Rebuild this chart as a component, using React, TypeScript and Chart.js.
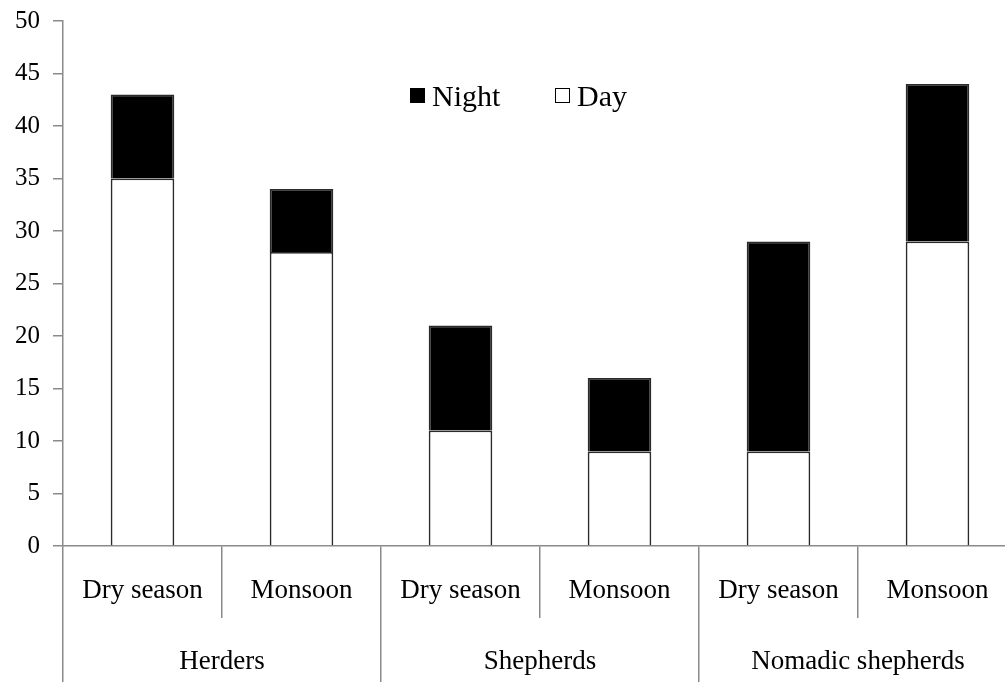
import React, { useEffect, useRef } from 'react';
import { Chart, registerables } from 'chart.js';

Chart.register(...registerables);

const categories = ['Dry season', 'Monsoon', 'Dry season', 'Monsoon', 'Dry season', 'Monsoon'];
const groups = ['Herders', 'Shepherds', 'Nomadic shepherds'];
const dayValues = [35, 28, 11, 9, 9, 29];
const nightValues = [8, 6, 10, 7, 20, 15];
const yMin = 0;
const yMax = 50;
const yStep = 5;

const FONT = 'Liberation Serif, Times New Roman, serif';
const AXIS_GRAY = '#8a8a8a';

const legendPlugin = {
  id: 'insideLegend',
  afterDraw(chart: any) {
    const { ctx, chartArea } = chart;
    const ds = chart.data.datasets;
    const items = [ds[1], ds[0]];
    const left = chartArea.left + 347;
    const boxTop = chartArea.top + 67;
    const baseline = chartArea.top + 85;
    ctx.save();
    ctx.font = `30px ${FONT}`;
    ctx.textBaseline = 'alphabetic';
    ctx.textAlign = 'left';
    let x = left;
    items.forEach((d: any, i: number) => {
      if (i === 0) {
        ctx.fillStyle = '#000';
        ctx.fillRect(x, boxTop, 15, 15);
      } else {
        ctx.fillStyle = '#fff';
        ctx.fillRect(x, boxTop, 15, 15);
        ctx.strokeStyle = '#000';
        ctx.lineWidth = 1;
        ctx.strokeRect(x + 0.5, boxTop + 0.5, 14, 14);
      }
      ctx.fillStyle = '#000';
      ctx.fillText(d.label, x + 22, baseline);
      x += 145;
    });
    ctx.restore();
  },
};

export default function App() {
  const ref = useRef<HTMLCanvasElement | null>(null);

  useEffect(() => {
    if (!ref.current) return;
    const chart = new Chart(ref.current, {
      type: 'bar',
      data: {
        labels: categories,
        datasets: [
          {
            label: 'Day',
            data: dayValues,
            backgroundColor: '#ffffff',
            borderColor: '#2a2a2a',
            borderWidth: 1.8,
            barPercentage: 0.4,
            categoryPercentage: 1,
            xAxisID: 'x',
          },
          {
            label: 'Night',
            data: nightValues,
            backgroundColor: '#000000',
            borderColor: '#2a2a2a',
            borderWidth: 1.8,
            barPercentage: 0.4,
            categoryPercentage: 1,
            xAxisID: 'x',
          },
        ],
      },
      options: {
        responsive: false,
        animation: false,
        layout: { autoPadding: false, padding: { left: 0, right: 13, top: 21, bottom: 0 } },
        plugins: {
          legend: { display: false },
          tooltip: { enabled: false },
        },
        scales: {
          y: {
            type: 'linear',
            stacked: true,
            min: yMin,
            max: yMax,
            ticks: {
              stepSize: yStep,
              color: '#000',
              font: { family: FONT, size: 25, lineHeight: 0.6 },
              padding: 13,
            },
            grid: {
              drawOnChartArea: false,
              drawTicks: true,
              tickLength: 10,
              color: AXIS_GRAY,
              lineWidth: 1.5,
            },
            border: { display: true, color: AXIS_GRAY, width: 1.5 },
            afterFit(s: any) {
              s.width = 63;
            },
          },
          x: {
            type: 'category',
            stacked: true,
            position: 'bottom',
            offset: true,
            weight: 1,
            grid: {
              offset: true,
              drawOnChartArea: false,
              drawTicks: true,
              tickLength: 72,
              color: AXIS_GRAY,
              lineWidth: 1.5,
            },
            border: { display: true, color: AXIS_GRAY, width: 1.5 },
            ticks: {
              color: '#000',
              font: { family: FONT, size: 27 },
              padding: -43,
              autoSkip: false,
              maxRotation: 0,
              minRotation: 0,
            },
            afterFit(s: any) {
              s.height = 72;
            },
          },
          x2: {
            type: 'category',
            labels: groups,
            position: 'bottom',
            offset: true,
            weight: 2,
            grid: {
              offset: true,
              drawOnChartArea: false,
              drawTicks: true,
              tickLength: 64,
              color: AXIS_GRAY,
              lineWidth: 1.5,
            },
            border: { display: false },
            ticks: {
              color: '#000',
              font: { family: FONT, size: 27 },
              padding: -36,
              autoSkip: false,
              maxRotation: 0,
              minRotation: 0,
            },
            afterFit(s: any) {
              s.height = 64;
            },
          },
        },
      } as any,
      plugins: [legendPlugin],
    });
    return () => chart.destroy();
  }, []);

  return (
    <div
      style={{
        position: 'fixed',
        left: 0,
        top: 0,
        width: 1005,
        height: 682,
        overflow: 'hidden',
        background: '#fff',
      }}
    >
      <canvas ref={ref} width={1030} height={682} style={{ display: 'block' }} />
    </div>
  );
}
